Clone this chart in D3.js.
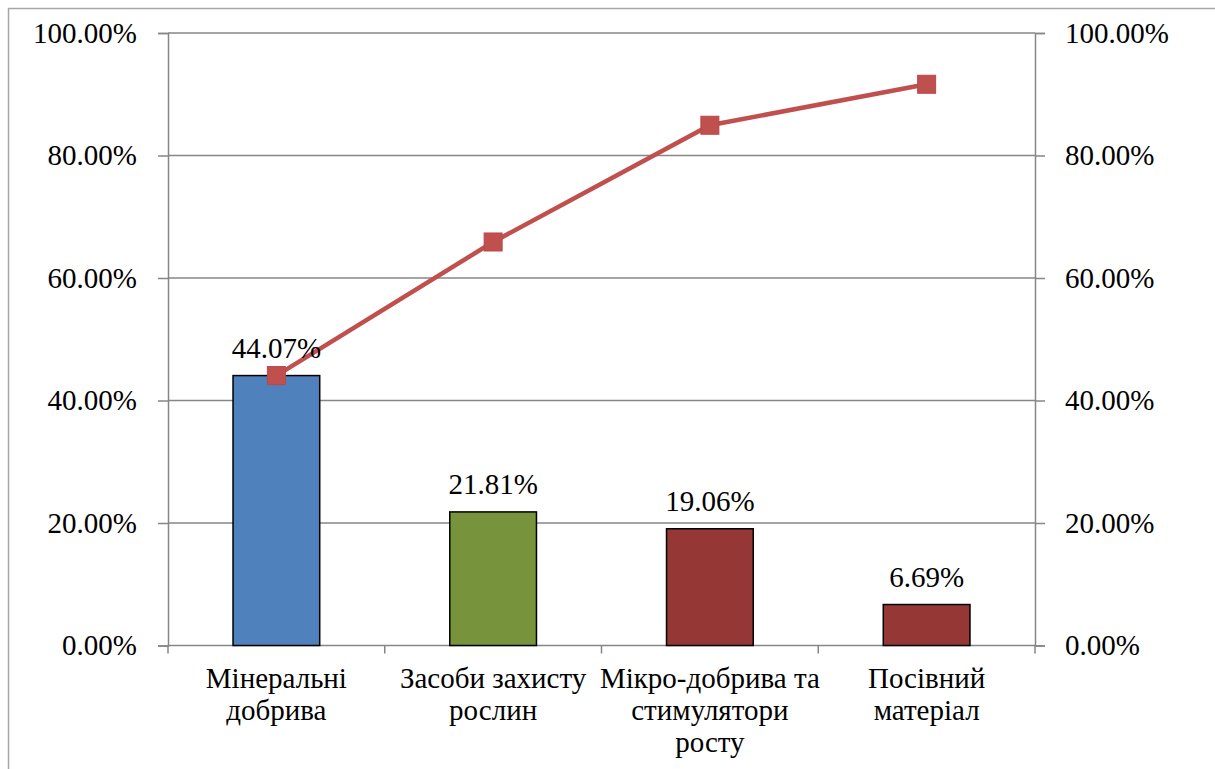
<!DOCTYPE html>
<html>
<head>
<meta charset="utf-8">
<script src="https://cdn.jsdelivr.net/npm/d3@7"></script>
<style>
  svg text { font-family: 'Liberation Serif', 'Times New Roman', serif !important; }
</style>
</head>
<body style="margin:0">
<svg id="chart" width="1215" height="769" font-family="Liberation Serif"></svg>
<script>
// data
var categories = ["Мінеральні\nдобрива", "Засоби захисту\nрослин", "Мікро-добрива та\nстимулятори\nросту", "Посівний\nматеріал"];
var shares = [0.4407, 0.2181, 0.1906, 0.0669];
var cumulative = [0.4407, 0.6588, 0.8494, 0.9163];
var barColors = ["#4F81BD", "#77933C", "#953735", "#953735"];
var yTicks = [0, 0.2, 0.4, 0.6, 0.8, 1.0];

var W = 1215, H = 769;
var m = {left: 168, right: W - 1035, top: 33, bottom: H - 645.5};
var fontSize = 29;
var fontName = 'Liberation Serif';

var svg = d3.select('#chart');

// outer chart border
svg.append('rect')
   .attr('x', 8.5).attr('y', 8.5)
   .attr('width', W).attr('height', H)
   .attr('fill', 'none')
   .attr('stroke', '#a6a6a6')
   .attr('stroke-width', 1.5);

var x = d3.scaleBand()
    .domain(categories)
    .range([m.left, W - m.right])
    .paddingInner(0.6)
    .paddingOuter(0.3);

var xEdge = d3.scaleLinear().domain([0, categories.length]).range([m.left, W - m.right]);

var y = d3.scaleLinear().domain([0, 1]).range([H - m.bottom, m.top]);

var fmt = d3.format('.2%');

// gridlines
svg.append('g')
   .selectAll('line')
   .data(yTicks.slice(1))
   .enter()
   .append('line')
   .attr('x1', m.left).attr('x2', W - m.right)
   .attr('y1', function(d) {return y(d);})
   .attr('y2', function(d) {return y(d);})
   .attr('stroke', '#868686')
   .attr('stroke-width', 1.5);

// left and right axes
var yLeft = svg.append('g')
   .attr('transform', 'translate(' + m.left + ',0)')
   .call(d3.axisLeft(y).tickValues(yTicks).tickFormat(fmt).tickSize(10).tickPadding(21));

var yRight = svg.append('g')
   .attr('transform', 'translate(' + (W - m.right) + ',0)')
   .call(d3.axisRight(y).tickValues(yTicks).tickFormat(fmt).tickSize(10).tickPadding(20));

[yLeft, yRight].forEach(function(a) {
    a.attr('font-family', fontName).attr('font-size', fontSize);
    a.select('.domain').attr('stroke', '#868686').attr('stroke-width', 1.5);
    a.selectAll('.tick line').attr('stroke', '#868686').attr('stroke-width', 1.5);
    a.selectAll('.tick text')
     .attr('fill', '#000')
     .attr('dy', '0.32em');
});

// category axis
svg.append('line')
   .attr('x1', m.left).attr('x2', W - m.right)
   .attr('y1', y(0)).attr('y2', y(0))
   .attr('stroke', '#868686')
   .attr('stroke-width', 1.5);

svg.append('g')
   .selectAll('line')
   .data(d3.range(categories.length + 1))
   .enter()
   .append('line')
   .attr('x1', function(d) {return xEdge(d);})
   .attr('x2', function(d) {return xEdge(d);})
   .attr('y1', y(0)).attr('y2', y(0) + 8)
   .attr('stroke', '#868686')
   .attr('stroke-width', 1.5);

// bars
svg.append('g')
   .selectAll('rect')
   .data(shares)
   .enter()
   .append('rect')
   .attr('x', function(d, i) {return x(categories[i]);})
   .attr('y', function(d) {return y(d);})
   .attr('width', x.bandwidth())
   .attr('height', function(d) {return y(0) - y(d);})
   .attr('fill', function(d, i) {return barColors[i];})
   .attr('stroke', '#000')
   .attr('stroke-width', 1.5);

// category labels
var catLabels = svg.append('g')
   .selectAll('text')
   .data(categories)
   .enter()
   .append('text')
   .attr('text-anchor', 'middle')
   .attr('font-family', fontName)
   .attr('font-size', fontSize);

catLabels.each(function(d) {
    var t = d3.select(this);
    var cx = x(d) + x.bandwidth() / 2;
    d.split('\n').forEach(function(line, k) {
        t.append('tspan')
         .attr('x', cx)
         .attr('y', 688 + k * 32)
         .text(line);
    });
});

// cumulative line
var line = d3.line()
    .x(function(d, i) {return x(categories[i]) + x.bandwidth() / 2;})
    .y(function(d) {return y(d);});

svg.append('path')
   .datum(cumulative)
   .attr('d', line)
   .attr('fill', 'none')
   .attr('stroke', '#C0504D')
   .attr('stroke-width', 4.5);

svg.append('g')
   .selectAll('rect')
   .data(cumulative)
   .enter()
   .append('rect')
   .attr('x', function(d, i) {return x(categories[i]) + x.bandwidth() / 2 - 9;})
   .attr('y', function(d) {return y(d) - 9;})
   .attr('width', 18)
   .attr('height', 18)
   .attr('fill', '#C0504D')
   .attr('stroke', '#B9474A')
   .attr('stroke-width', 1);

// value labels
svg.append('g')
   .selectAll('text')
   .data(shares)
   .enter()
   .append('text')
   .attr('text-anchor', 'middle')
   .attr('x', function(d, i) {return x(categories[i]) + x.bandwidth() / 2;})
   .attr('y', function(d) {return y(d) - 18;})
   .attr('font-family', fontName)
   .attr('font-size', fontSize)
   .text(function(d) {return fmt(d);});
</script>
</body>
</html>
